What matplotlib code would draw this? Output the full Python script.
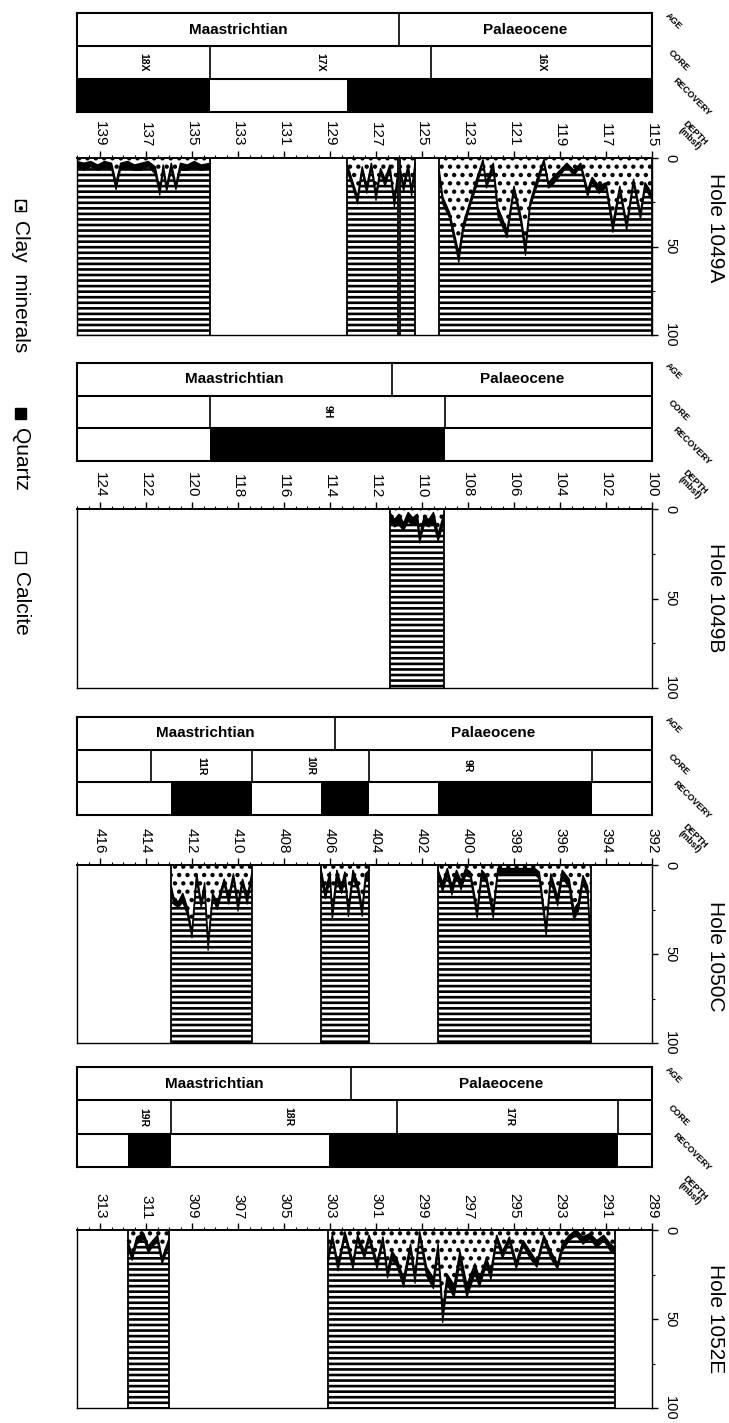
import numpy as np
import matplotlib
matplotlib.use('Agg')
import matplotlib.pyplot as plt
from matplotlib.patches import Rectangle
from matplotlib.ticker import MultipleLocator

plt.rcParams['font.family'] = ['Liberation Sans', 'DejaVu Sans']
plt.rcParams['hatch.linewidth'] = 1.9

# ---------------- data ----------------
holes = ['Hole 1049A', 'Hole 1049B', 'Hole 1050C', 'Hole 1052E']
depth_deep = [140, 125, 417, 314]
depth_shallow = [115, 100, 392, 289]
kt_depth = [126.0, 111.3, 405.8, 302.1]
depth_ticks = [
    [139, 137, 135, 133, 131, 129, 127, 125, 123, 121, 119, 117, 115],
    [124, 122, 120, 118, 116, 114, 112, 110, 108, 106, 104, 102, 100],
    [416, 414, 412, 410, 408, 406, 404, 402, 400, 398, 396, 394, 392],
    [313, 311, 309, 307, 305, 303, 301, 299, 297, 295, 293, 291, 289],
]
pct_ticks = [0, 50, 100]

core_bounds = [[134.2, 124.6], [119.2, 109.0], [413.8, 409.4, 404.3, 394.6],
               [309.9, 300.1, 290.5]]
core_names = [['18X', '17X', '16X'], ['9H'], ['11R', '10R', '9R'], ['19R', '18R', '17R']]
core_label_depth = [[137.1, 129.4, 119.8], [114.1], [411.6, 406.85, 400.0],
                    [311.1, 304.8, 295.2]]
recovered = [
    [(140.0, 134.2), (128.24, 115.0)],
    [(119.2, 109.0)],
    [(412.9, 409.4), (406.4, 404.3), (401.3, 394.6)],
    [(311.8, 309.9), (303.05, 290.5)],
]

# Hole 1049A
a1_depth = [140.0, 139.7, 139.4, 139.1, 138.8, 138.5, 138.3, 138.1, 137.8, 137.5, 137.2, 136.9,
            136.6, 136.4, 136.25, 136.1, 135.9, 135.7, 135.5, 135.2, 134.9, 134.6, 134.2]
a1_clay = [2, 3, 2, 4, 2, 3, 14, 3, 2, 4, 3, 2, 5, 18, 4, 16, 3, 15, 3, 4, 2, 4, 3]
a1_quartz = [3, 4, 3, 3, 4, 3, 4, 3, 4, 3, 4, 3, 4, 3, 4, 3, 4, 3, 4, 3, 4, 3, 3]
a2_depth = [128.24, 128.0, 127.8, 127.6, 127.4, 127.2, 127.0, 126.8, 126.6, 126.4, 126.2, 126.05]
a2_clay = [4, 14, 22, 5, 16, 3, 20, 6, 12, 4, 24, 8]
a2_quartz = [4, 3, 4, 3, 4, 3, 4, 3, 4, 3, 4, 3]
a3_depth = [125.95, 125.8, 125.6, 125.45, 125.3]
a3_clay = [6, 15, 4, 18, 3]
a3_quartz = [3, 4, 3, 4, 3]
a4_depth = [124.25, 124.1, 123.8, 123.4, 123.2, 122.9, 122.6, 122.35, 122.2, 121.9, 121.7, 121.3,
            121.0, 120.7, 120.5, 120.3, 120.0, 119.7, 119.5, 119.3, 119.0, 118.7, 118.4, 118.1,
            117.8, 117.6, 117.3, 117.0, 116.7, 116.4, 116.1, 115.8, 115.5, 115.3, 115.0]
a4_clay = [7, 22, 31, 54, 37, 24, 11, 1, 14, 3, 28, 41, 16, 33, 50, 25, 12, 1, 14, 11,
           7, 3, 7, 3, 18, 11, 16, 14, 37, 16, 37, 12, 31, 14, 20]
a4_quartz = [3, 4, 3, 5, 4, 3, 4, 2, 3, 4, 5, 4, 3, 4, 5, 3, 4, 2, 3, 4,
             3, 2, 3, 2, 4, 3, 4, 3, 5, 3, 4, 3, 4, 3, 4]

# Hole 1049B
b1_depth = [111.4, 111.2, 111.0, 110.8, 110.6, 110.4, 110.2, 110.1, 109.9, 109.7, 109.5, 109.3, 109.05]
b1_clay = [2, 6, 3, 8, 2, 5, 3, 15, 4, 6, 2, 14, 3]
b1_quartz = [5, 4, 6, 4, 5, 4, 6, 4, 5, 4, 6, 4, 5]

# Hole 1050C
c1_depth = [412.9, 412.8, 412.6, 412.4, 412.2, 412.0, 411.8, 411.6, 411.45, 411.3, 411.1, 410.9,
            410.6, 410.4, 410.2, 410.0, 409.8, 409.6, 409.4]
c1_clay = [12, 18, 21, 16, 24, 38, 5, 21, 10, 44, 16, 21, 8, 18, 5, 21, 8, 18, 5]
c1_quartz = [3, 4, 3, 5, 4, 3, 4, 3, 5, 4, 3, 4, 3, 4, 3, 5, 3, 4, 3]
c2_depth = [406.4, 406.2, 406.0, 405.9, 405.7, 405.5, 405.35, 405.2, 405.0, 404.8, 404.6, 404.45, 404.3]
c2_clay = [2, 15, 4, 27, 3, 12, 4, 25, 3, 10, 24, 5, 3]
c2_quartz = [5, 4, 5, 4, 6, 4, 5, 4, 5, 4, 5, 4, 5]
c3_depth = [401.3, 401.1, 400.9, 400.7, 400.5, 400.3, 400.1, 399.9, 399.6, 399.4, 399.2, 398.9,
            398.7, 398.3, 397.9, 397.5, 397.1, 396.9, 396.6, 396.4, 396.1, 395.9, 395.6, 395.4,
            395.2, 395.0, 394.8, 394.65]
c3_clay = [3, 10, 2, 12, 3, 9, 2, 4, 25, 3, 6, 25, 2, 2, 2, 2, 2, 4, 35, 5,
           18, 3, 8, 25, 21, 6, 12, 48]
c3_quartz = [4, 5, 4, 5, 4, 5, 4, 3, 5, 4, 4, 5, 3, 3, 3, 3, 3, 4, 5, 4,
             5, 4, 5, 6, 5, 4, 5, 4]

# Hole 1052E
e1_depth = [311.8, 311.6, 311.4, 311.1, 310.9, 310.7, 310.5, 310.3, 310.0]
e1_clay = [6, 14, 4, 2, 9, 6, 3, 16, 5]
e1_quartz = [4, 3, 4, 3, 4, 3, 4, 3, 4]
e2_depth = [303.1, 302.9, 302.65, 302.35, 302.0, 301.8, 301.5, 301.3, 300.95, 300.7,
            300.5, 300.3, 300.1, 299.8, 299.5, 299.3, 299.1, 298.8, 298.5, 298.3,
            298.1, 297.9, 297.6, 297.35, 297.05, 296.7, 296.5, 296.2, 296.0, 295.75,
            295.5, 295.2, 294.9, 294.6, 294.3, 294.0, 293.7, 293.4, 293.1, 292.9,
            292.6, 292.3, 292.0, 291.7, 291.4, 291.1, 290.8, 290.6]
e2_clay = [16, 3, 19, 1, 18, 3, 12, 3, 18, 4, 23, 12, 16, 27, 8, 25, 1, 21, 27, 8,
           45, 25, 31, 12, 31, 19, 27, 16, 23, 3, 12, 4, 18, 6, 12, 18, 3, 12, 19, 8,
           3, 0, 4, 2, 6, 3, 8, 10]
e2_quartz = [4, 3, 4, 3, 4, 3, 4, 3, 4, 3, 4, 5, 4, 5, 4, 5, 3, 5, 6, 5,
             7, 6, 7, 6, 7, 6, 5, 4, 5, 3, 4, 3, 4, 3, 4, 3, 3, 4, 3, 4,
             3, 3, 4, 3, 4, 3, 4, 3]

segments = [
    [(a1_depth, a1_clay, a1_quartz), (a2_depth, a2_clay, a2_quartz),
     (a3_depth, a3_clay, a3_quartz), (a4_depth, a4_clay, a4_quartz)],
    [(b1_depth, b1_clay, b1_quartz)],
    [(c1_depth, c1_clay, c1_quartz), (c2_depth, c2_clay, c2_quartz), (c3_depth, c3_clay, c3_quartz)],
    [(e1_depth, e1_clay, e1_quartz), (e2_depth, e2_clay, e2_quartz)],
]

# ---------------- layout (pixels of a 729x1423 canvas) ----------------
W, H = 729, 1423
X0, X1 = 77, 652
box_px = [(13, 112), (363, 461), (717, 815), (1067, 1167)]
data_px = [(158, 335), (509, 688), (865, 1043), (1230, 1408)]
title_y = [228, 598, 956, 1319]


def rect(top, bottom):
    return [X0 / W, 1 - bottom / H, (X1 - X0) / W, (bottom - top) / H]


fig = plt.figure(figsize=(W / 100, H / 100), dpi=100)

for k in range(4):
    deep, shallow = depth_deep[k], depth_shallow[k]

    # ---- AGE / CORE / RECOVERY strip ----
    bx = fig.add_axes(rect(*box_px[k]))
    bx.set_xlim(deep, shallow)
    bx.set_ylim(0, 3)
    bx.set_xticks([]); bx.set_yticks([])
    for s in bx.spines.values():
        s.set_linewidth(1.5)
    bx.axhline(1, color='black', lw=1.5)
    bx.axhline(2, color='black', lw=1.5)
    bx.vlines(kt_depth[k], 2, 3, color='black', lw=1.2)
    bx.vlines([c for c in core_bounds[k] if shallow < c < deep], 1, 2, color='black', lw=1.2)
    for a, b in recovered[k]:
        bx.fill_between([a, b], 0, 1, color='black', lw=0)
    bx.text((deep + kt_depth[k]) / 2, 2.5, 'Maastrichtian', ha='center', va='center',
            fontsize=11, fontweight='bold')
    bx.text((shallow + kt_depth[k]) / 2, 2.5, 'Palaeocene', ha='center', va='center',
            fontsize=11, fontweight='bold')
    for name, d in zip(core_names[k], core_label_depth[k]):
        bx.text(d, 1.5, name, rotation=-90, ha='center', va='center', fontsize=7.5,
                fontweight='bold')
    tr = bx.get_yaxis_transform()
    bx.text(1.038, 2.75, 'AGE', transform=tr, rotation=-45, ha='center', va='center',
            fontsize=6.5, fontweight='bold')
    bx.text(1.047, 1.55, 'CORE', transform=tr, rotation=-45, ha='center', va='center',
            fontsize=6.5, fontweight='bold')
    bx.text(1.07, 0.45, 'RECOVERY', transform=tr, rotation=-45, ha='center', va='center',
            fontsize=6.5, fontweight='bold')
    bx.text(1.07, -0.72, 'DEPTH\n(mbsf)', transform=tr, rotation=-45, ha='center',
            va='center', fontsize=6.5, fontweight='bold', linespacing=0.9)

    # ---- mineral data ----
    ax = fig.add_axes(rect(*data_px[k]))
    ax.set_xlim(deep, shallow)
    ax.set_ylim(100, 0)
    for s in ax.spines.values():
        s.set_linewidth(1.0)
    ax.spines['top'].set_linewidth(1.4)
    for dep, clay, qtz in segments[k]:
        d = np.array(dep, dtype=float)
        c = np.array(clay, dtype=float)
        q = c + np.array(qtz, dtype=float)
        ax.fill_between(d, 0, c, facecolor='white', hatch='..', edgecolor='black', lw=0)
        ax.fill_between(d, c, q, facecolor='black', lw=0)
        ax.fill_between(d, q, 100, facecolor='white', hatch='---', edgecolor='black', lw=0)
        ax.plot(d, c, color='black', lw=1.1)
        ax.plot(d, q, color='black', lw=0.8)
        ax.vlines([d[0], d[-1]], 0, 100, color='black', lw=1.3)

    ax.xaxis.tick_top()
    ax.set_xticks(depth_ticks[k])
    ax.set_xticklabels([str(t) for t in depth_ticks[k]])
    ax.xaxis.set_minor_locator(MultipleLocator(0.5))
    ax.tick_params(axis='x', which='major', direction='out', length=5, width=1,
                   labelrotation=-90, labelsize=11, pad=3)
    ax.tick_params(axis='x', which='minor', direction='out', length=2.5, width=0.8)
    ax.yaxis.tick_right()
    ax.set_yticks(pct_ticks)
    ax.set_yticklabels([str(t) for t in pct_ticks], va='center')
    ax.yaxis.set_minor_locator(MultipleLocator(25))
    ax.tick_params(axis='y', which='major', direction='out', length=4, width=1,
                   labelrotation=-90, labelsize=10.5, pad=4)
    ax.tick_params(axis='y', which='minor', direction='out', length=2, width=0.8)

    fig.text(715 / W, 1 - title_y[k] / H, holes[k], rotation=-90, ha='center', va='center',
             fontsize=15)

# ---------------- legend ----------------
legend_names = ['Clay  minerals', 'Quartz', 'Calcite']
legend_icon_y = [205, 413, 557]
legend_face = ['white', 'black', 'white']
legend_hatch = ['..', None, None]
for name, yy, fc, ht in zip(legend_names, legend_icon_y, legend_face, legend_hatch):
    fig.add_artist(Rectangle(((20 - 5.5) / W, 1 - (yy + 5.5) / H), 11 / W, 11 / H,
                             transform=fig.transFigure, facecolor=fc, edgecolor='black',
                             hatch=ht, lw=1.0))
    fig.text(20 / W, 1 - (yy + 15) / H, name, rotation=-90, ha='center', va='top',
             fontsize=15)

fig.savefig('out.png', dpi=100)
